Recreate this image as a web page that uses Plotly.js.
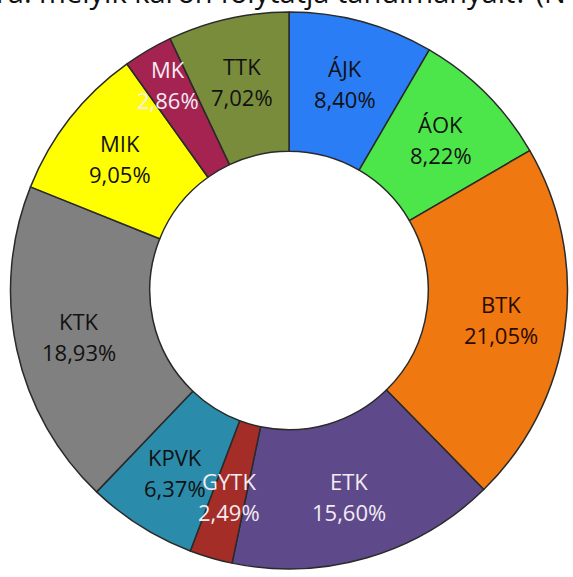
<!DOCTYPE html>
<html>
<head>
<meta charset="utf-8">
<script src="https://cdn.plot.ly/plotly-3.0.1.min.js"></script>
<style>html,body{margin:0;padding:0;background:#fff;}#chart{width:573px;height:577px;}</style>
</head>
<body>
<div id="chart"></div>
<script>
const labels = ["ÁJK","ÁOK","BTK","ETK","GYTK","KPVK","KTK","MIK","MK","TTK"];
const values = [8.40, 8.22, 21.05, 15.60, 2.49, 6.37, 18.93, 9.05, 2.86, 7.02];
const colors = ["#2B7DF5","#4DE64A","#F07810","#5E4A8A","#A52D28","#2A8CAA","#808080","#FFFF00","#A52350","#788C3C"];
const textColors = ["#111","#111","#2a0a00","#f2ecf4","#f2ecf4","#111","#111","#111","#f2ecf4","#111"];
const titleText = "ra: melyik karon folytatja tanulmányait? (N";

const W = 573, H = 577;
const M = {l: 5, r: 0, t: 12, b: 8};
const plotW = W - M.l - M.r, plotH = H - M.t - M.b;
const R = Math.min(plotW, plotH) / 2;
const labelRFrac = 0.77;
const labelRFracOverride = {"MK": 0.86};

const trace = {
  type: "pie",
  labels: labels,
  values: values,
  sort: false,
  direction: "clockwise",
  rotation: 0,
  hole: 0.5,
  marker: {colors: colors, line: {color: "#2a2a2a", width: 1.5}},
  textinfo: "none",
  hoverinfo: "none",
  showlegend: false
};

// label annotations at each slice's mid-angle (computed from the values)
const total = values.reduce((a, b) => a + b, 0);
const annotations = [];
let cum = 0;
values.forEach((v, i) => {
  const mid = (cum + v / 2) / total * 2 * Math.PI;
  cum += v;
  const r = (labelRFracOverride[labels[i]] || labelRFrac) * R;
  const x = 0.5 + r * Math.sin(mid) / plotW;
  const y = 0.5 + r * Math.cos(mid) / plotH;
  const font = {family: "Open Sans", size: 22, color: textColors[i]};
  annotations.push({xref: "paper", yref: "paper", x: x, y: y, text: labels[i],
    showarrow: false, font: font, yshift: 15, xanchor: "center", yanchor: "middle"});
  annotations.push({xref: "paper", yref: "paper", x: x, y: y,
    text: v.toFixed(2).replace(".", ",") + "%",
    showarrow: false, font: font, yshift: -16, xanchor: "center", yanchor: "middle"});
});
annotations.push({xref: "paper", yref: "paper", x: 0.5, y: 1, xshift: -8, yshift: 21,
  text: titleText, showarrow: false, xanchor: "center", yanchor: "middle",
  font: {family: "Open Sans", size: 29, color: "#111"}});

const layout = {
  width: W, height: H,
  margin: M,
  paper_bgcolor: "#fff",
  annotations: annotations
};

Plotly.newPlot("chart", [trace], layout, {displayModeBar: false, staticPlot: true});
</script>
</body>
</html>
